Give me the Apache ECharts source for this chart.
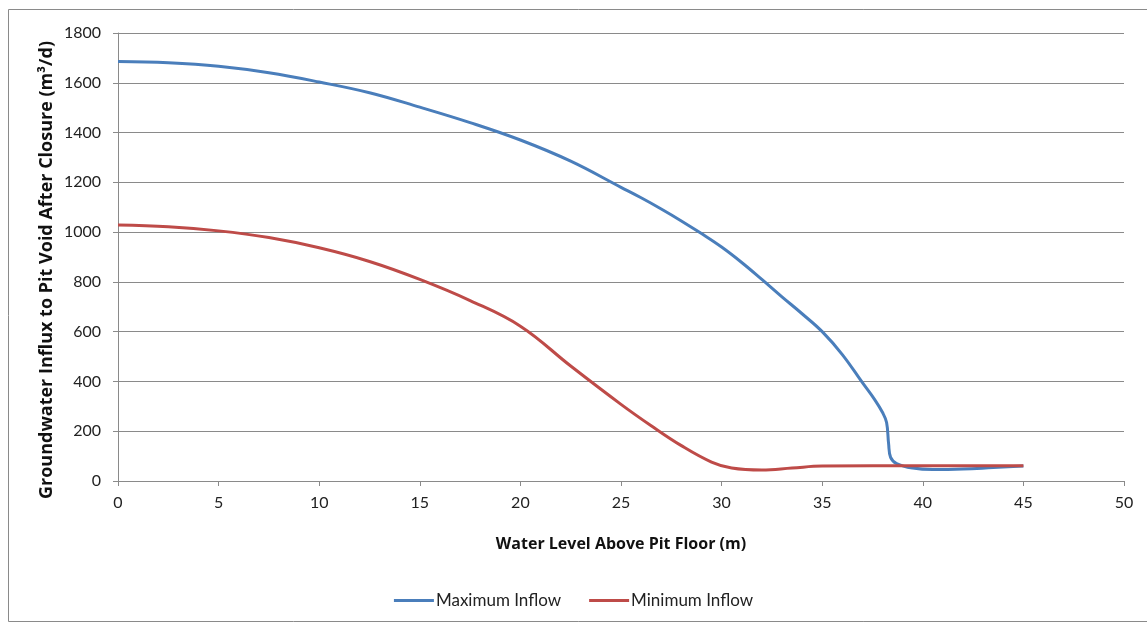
<!DOCTYPE html>
<html>
<head>
<meta charset="utf-8">
<script src="https://cdn.jsdelivr.net/npm/echarts@6/dist/echarts.min.js"></script>
<style>
  html, body { margin: 0; padding: 0; background: #fff; }
  #chart { width: 1147px; height: 625px; }
</style>
</head>
<body>
<div id="chart"></div>
<script>
// Water level above pit floor (m) vs. groundwater influx (m³/d)
const maxInflowLevel = [0, 2.5, 5, 7.5, 10, 12.5, 15, 17.5, 20, 22.5, 25, 26, 27, 28, 29, 30, 31, 32, 33, 34, 35, 36, 37, 37.6, 38, 38.2, 38.3, 38.4, 38.7, 39.5, 40.5, 42, 43.5, 45];
const maxInflowValue = [1685, 1680, 1666, 1640, 1603, 1560, 1502, 1440, 1370, 1285, 1180, 1138, 1093, 1045, 994, 940, 878, 810, 740, 672, 600, 508, 395, 328, 275, 235, 150, 95, 70, 52, 46, 48, 54, 60];

const minInflowLevel = [0, 2.5, 5, 7.5, 10, 12.5, 15, 17.5, 20, 22.5, 25, 26.5, 28, 29.5, 30.5, 32, 33.5, 35, 40, 45];
const minInflowValue = [1029, 1022, 1005, 978, 937, 882, 810, 725, 622, 462, 308, 222, 142, 76, 52, 44, 52, 60, 61, 61];

const seriesNames = ['Maximum Inflow', 'Minimum Inflow'];
const seriesColors = ['#4A7EBB', '#BE4B48'];
const xTitle = 'Water Level Above Pit Floor (m)';
const yTitle = 'Groundwater Influx to Pit Void After Closure (m³/d)';

const pair = (xs, ys) => xs.map((x, i) => [x, ys[i]]);

const chart = echarts.init(document.getElementById('chart'), null, { renderer: 'canvas' });
const font = 'Lato, "Open Sans", sans-serif';
const titleFont = '"Open Sans", Lato, sans-serif';

chart.setOption({
  animation: false,
  backgroundColor: '#fff',
  graphic: [
    {
      type: 'rect',
      shape: { x: 8.5, y: 9.5, width: 1150, height: 612 },
      style: { fill: 'none', stroke: '#8a8a8a', lineWidth: 1 },
      silent: true
    },
    {
      // vertical axis title
      type: 'text',
      x: 47, y: 270,
      rotation: Math.PI / 2,
      style: {
        text: yTitle,
        fontFamily: titleFont, fontSize: 18, fontWeight: 'bold',
        fill: '#111', align: 'center', verticalAlign: 'middle'
      },
      silent: true
    }
  ],
  grid: { left: 118, right: 23, top: 33, bottom: 144 },
  legend: {
    bottom: 11,
    left: 'center',
    itemWidth: 40,
    itemHeight: 3,
    itemGap: 28,
    icon: 'rect',
    textStyle: { fontFamily: font, fontSize: 17, color: '#222', padding: [0, 0, 0, -3] },
    data: seriesNames
  },
  xAxis: {
    type: 'value',
    min: 0, max: 50, interval: 5,
    name: xTitle,
    nameLocation: 'middle',
    nameGap: 55,
    nameTextStyle: { fontFamily: titleFont, fontSize: 16, fontWeight: 'bold', color: '#111' },
    axisLine: { lineStyle: { color: '#8a8a8a', width: 1 } },
    axisTick: { show: true, length: 5, lineStyle: { color: '#8a8a8a' } },
    axisLabel: { fontFamily: font, fontSize: 16, color: '#222', margin: 14 },
    splitLine: { show: false }
  },
  yAxis: {
    type: 'value',
    min: 0, max: 1800, interval: 200,
    axisLine: { show: true, lineStyle: { color: '#8a8a8a', width: 1 } },
    axisTick: { show: true, length: 5, lineStyle: { color: '#8a8a8a' } },
    axisLabel: { fontFamily: font, fontSize: 16, color: '#222', margin: 17, formatter: v => String(v) },
    splitLine: { show: true, lineStyle: { color: '#8a8a8a', width: 1 } }
  },
  series: [
    {
      name: seriesNames[0],
      type: 'line',
      data: pair(maxInflowLevel, maxInflowValue),
      smooth: 0.4,
      showSymbol: false,
      lineStyle: { color: seriesColors[0], width: 3 },
      itemStyle: { color: seriesColors[0] }
    },
    {
      name: seriesNames[1],
      type: 'line',
      data: pair(minInflowLevel, minInflowValue),
      smooth: 0.4,
      showSymbol: false,
      lineStyle: { color: seriesColors[1], width: 3 },
      itemStyle: { color: seriesColors[1] }
    }
  ]
});
</script>
</body>
</html>
